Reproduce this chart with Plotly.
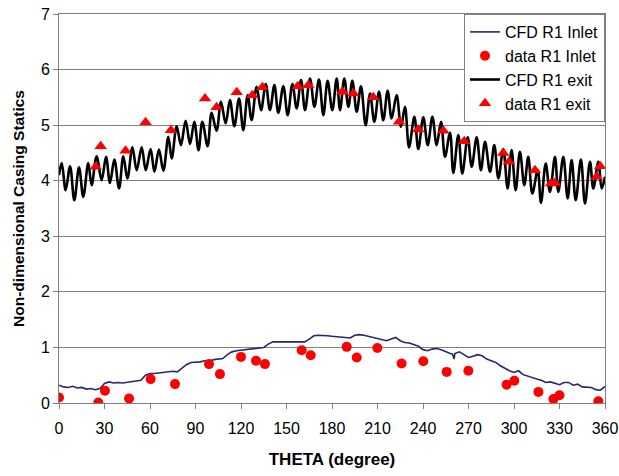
import plotly.graph_objects as go

# ---- CFD R1 exit (peaks/troughs) ----
theta_exit = [0, 1.8, 4.4, 7.3, 10.1, 13.2, 16.0, 19.3, 21.5, 24.8, 28.1, 31.0, 33.6, 36.5, 39.6,
              42.4, 45.1, 48.4, 51.2, 54.5, 57.2, 60.4, 62.9, 65.9, 68.8, 72.1, 74.3, 77.6, 80.4,
              83.5, 86.4, 89.2, 92.0, 94.5, 98.0, 100.6, 103.9, 106.8, 109.9, 112.7, 115.6, 118.7,
              121.5, 124.4, 127.0, 130.3, 133.2, 136.3, 139.1, 142.0, 144.6, 147.9, 150.8, 153.9,
              156.7, 159.6, 162.2, 165.5, 168.4, 171.4, 174.3, 177.1, 180.2, 183.1, 185.3, 188.1,
              190.8, 193.4, 196.3, 199.1, 202.2, 205.1, 207.9, 211.0, 213.8, 216.7, 219.3, 222.6,
              225.5, 228.1, 230.8, 234.3, 236.9, 240.2, 243.1, 246.2, 249.0, 251.9, 254.5, 257.8,
              260.0, 263.3, 265.9, 269.5, 272.1, 275.4, 278.2, 280.9, 284.2, 287.0, 289.7, 292.9,
              295.8, 298.4, 301.1, 303.9, 306.8, 309.4, 312.1, 315.6, 317.8, 320.9, 323.7, 327.0,
              329.2, 332.5, 335.4, 338.0, 340.7, 344.1, 346.8, 350.1, 352.3, 355.6, 357.8, 360.0]
cfd_exit = [4.10, 4.32, 3.83, 4.26, 3.65, 4.24, 3.71, 4.32, 3.92, 4.44, 4.01, 4.43, 3.96, 4.38, 3.86,
            4.44, 4.04, 4.60, 4.19, 4.60, 4.19, 4.57, 4.16, 4.56, 4.18, 4.79, 4.40, 4.98, 4.64,
            5.08, 4.66, 5.06, 4.55, 5.06, 4.62, 5.22, 4.90, 5.42, 5.03, 5.45, 4.98, 5.48,
            4.91, 5.54, 5.09, 5.69, 5.27, 5.74, 5.27, 5.72, 5.22, 5.70, 5.18, 5.74,
            5.30, 5.81, 5.27, 5.84, 5.33, 5.82, 5.18, 5.80, 5.27, 5.84, 5.27, 5.84,
            5.33, 5.80, 5.24, 5.70, 5.00, 5.57, 5.06, 5.60, 5.09, 5.62, 5.12, 5.54,
            4.97, 5.33, 4.60, 5.15, 4.57, 5.14, 4.64, 5.15, 4.64, 5.06, 4.43, 4.86,
            4.14, 4.82, 4.13, 4.78, 4.25, 4.78, 4.19, 4.70, 4.16, 4.64, 4.04, 4.57,
            3.86, 4.55, 3.83, 4.52, 3.92, 4.43, 3.77, 4.19, 3.60, 4.31, 3.80, 4.43,
            3.80, 4.43, 3.68, 4.37, 3.65, 4.38, 3.59, 4.34, 3.86, 4.34, 3.86, 4.07]

# ---- CFD R1 Inlet ----
theta_inlet = [0, 3, 6, 9, 12, 15, 18, 21, 24, 27, 30, 33, 36, 39, 42, 45, 48, 51, 54, 57, 60,
               63, 66, 69, 72, 75, 78, 81, 84, 87, 90, 93, 96, 99, 102, 105, 108, 111, 114, 117,
               120, 123, 126, 129, 132, 135, 138, 141, 144, 147, 150, 153, 156, 159, 162, 165,
               168, 171, 174, 177, 180, 183, 186, 189, 192, 195, 198, 201, 204, 207, 210, 213,
               216, 219, 222, 225, 228, 231, 234, 237, 240, 243, 246, 249, 252, 255, 258, 259.5,
               260.5, 261, 264, 267, 270, 273, 276, 279, 282, 285, 288, 291, 294, 297, 300, 303,
               306, 309, 312, 315, 318, 321, 324, 327, 330, 333, 336, 339, 342, 345, 348, 351,
               354, 357, 360]
cfd_inlet = [0.32, 0.29, 0.28, 0.30, 0.27, 0.28, 0.25, 0.26, 0.24, 0.26, 0.35, 0.38, 0.36, 0.37,
             0.36, 0.37, 0.39, 0.40, 0.41, 0.50, 0.53, 0.53, 0.54, 0.55, 0.55, 0.57, 0.56, 0.62,
             0.69, 0.73, 0.73, 0.74, 0.76, 0.75, 0.78, 0.79, 0.80, 0.87, 0.92, 0.94, 0.95, 0.96,
             0.97, 0.98, 0.98, 1.00, 1.06, 1.10, 1.10, 1.10, 1.10, 1.10, 1.10, 1.10, 1.10, 1.15,
             1.21, 1.22, 1.22, 1.21, 1.20, 1.19, 1.18, 1.18, 1.17, 1.22, 1.23, 1.22, 1.20, 1.18,
             1.16, 1.13, 1.12, 1.15, 1.18, 1.12, 1.09, 1.08, 1.05, 1.02, 0.96, 0.94, 0.97, 0.98,
             0.96, 0.92, 0.89, 0.88, 0.79, 0.89, 0.92, 0.87, 0.82, 0.84, 0.87, 0.85, 0.79, 0.76,
             0.73, 0.67, 0.62, 0.58, 0.55, 0.58, 0.51, 0.48, 0.46, 0.43, 0.41, 0.37, 0.38, 0.35,
             0.33, 0.37, 0.37, 0.32, 0.34, 0.29, 0.28, 0.28, 0.24, 0.23, 0.30]

# ---- data R1 Inlet (circles) ----
theta_data_inlet = [0, 25.9, 30.3, 46.2, 60.4, 76.5, 98.9, 106.1, 120.0, 129.9, 135.8, 160.0,
                    166.0, 189.7, 196.3, 209.9, 225.9, 240.2, 255.6, 269.9, 295.1, 300.2, 316.1,
                    326.0, 330.0, 355.6]
data_inlet = [0.10, 0.01, 0.22, 0.08, 0.43, 0.34, 0.70, 0.52, 0.83, 0.76, 0.70, 0.95,
              0.86, 1.01, 0.82, 0.99, 0.71, 0.75, 0.56, 0.58, 0.33, 0.40, 0.20,
              0.07, 0.14, 0.03]

# ---- data R1 exit (triangles) ----
theta_data_exit = [24.2, 27.5, 43.9, 57.1, 73.8, 96.3, 103.9, 117.2, 127.5, 134.1, 157.4, 164.4,
                   186.8, 194.1, 207.2, 224.2, 236.9, 253.4, 267.2, 292.9, 296.7, 313.8, 324.4,
                   327.0, 354.5, 356.9]
data_exit = [4.25, 4.62, 4.54, 5.05, 4.91, 5.48, 5.32, 5.59, 5.54, 5.68, 5.70, 5.72,
             5.60, 5.57, 5.50, 5.06, 4.92, 4.90, 4.71, 4.50, 4.34, 4.19, 3.95,
             3.96, 4.07, 4.26]

x_ticks = [0, 30, 60, 90, 120, 150, 180, 210, 240, 270, 300, 330, 360]
y_ticks = [0, 1, 2, 3, 4, 5, 6, 7]

FONT = "Arial, Liberation Sans, sans-serif"

fig = go.Figure()
fig.add_trace(go.Scatter(x=theta_inlet, y=cfd_inlet, mode="lines", name="CFD R1 Inlet",
                         line=dict(color="#27276e", width=1.6), legendrank=1))
fig.add_trace(go.Scatter(x=theta_exit, y=cfd_exit, mode="lines", name="CFD R1 exit",
                         line=dict(color="#000000", width=2.6, shape="spline", smoothing=1.0),
                         legendrank=3))
fig.add_trace(go.Scatter(x=theta_data_inlet, y=data_inlet, mode="markers", name="data R1 Inlet",
                         marker=dict(symbol="circle", size=10, color="#ff0000"), legendrank=2))
fig.add_trace(go.Scatter(x=theta_data_exit, y=data_exit, mode="markers", name="data R1 exit",
                         marker=dict(symbol="triangle-up", size=11, color="#ff0000"), legendrank=4))

fig.update_layout(
    width=619, height=476,
    margin=dict(l=59, r=14, t=14, b=73),
    paper_bgcolor="white", plot_bgcolor="white",
    font=dict(family=FONT, color="#000000", size=15),
    showlegend=True,
    legend=dict(x=1, xanchor="right", y=1, yanchor="top",
                bgcolor="white", bordercolor="#808080", borderwidth=1,
                font=dict(size=16, family=FONT), tracegroupgap=0, itemwidth=30),
)
fig.update_xaxes(range=[0, 360], tickvals=x_ticks, ticktext=[str(v) for v in x_ticks],
                 automargin=False,
                 showgrid=False, zeroline=False, showline=True, linecolor="#808080",
                 linewidth=1, mirror=True, ticks="outside", ticklen=5, tickcolor="#808080",
                 ticklabelstandoff=6,
                 tickfont=dict(size=16, family=FONT),
                 title=dict(text="<b>THETA (degree)</b>", font=dict(size=17, family=FONT),
                            standoff=16))
fig.update_yaxes(range=[0, 7], tickvals=y_ticks, ticktext=[str(v) for v in y_ticks],
                 automargin=False,
                 showgrid=True, gridcolor="#808080", gridwidth=1, zeroline=False,
                 showline=True, linecolor="#808080", linewidth=1, mirror=True,
                 ticks="outside", ticklen=5, tickcolor="#808080",
                 tickfont=dict(size=16, family=FONT),
                 title=dict(text="<b>Non-dimensional Casing Statics</b>",
                            font=dict(size=15.5, family=FONT), standoff=12))

fig.write_html("out.html")
